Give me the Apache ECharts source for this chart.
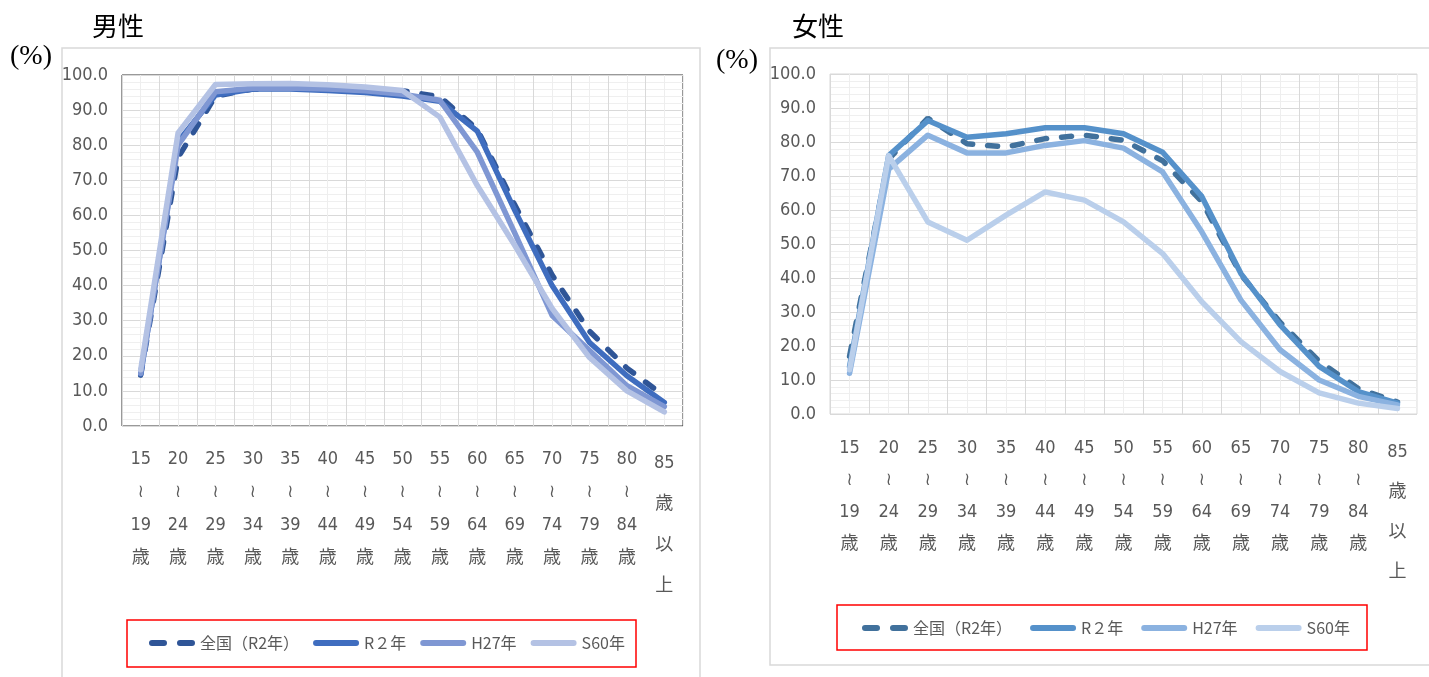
<!DOCTYPE html>
<html>
<head>
<meta charset="utf-8">
<script src="https://cdn.jsdelivr.net/npm/echarts@6/dist/echarts.min.js"></script>
<style>
  html, body { margin: 0; padding: 0; background: #fff; }
  .chart { position: absolute; top: 0; height: 677px; }
  #male { left: 0; width: 714px; }
  #female { left: 714px; width: 715px; }
</style>
</head>
<body>
<div id="male" class="chart"></div>
<div id="female" class="chart"></div>
<script>
// Labour force participation by age group — male / female

const AGE_GROUPS = ['15～19歳', '20～24歳', '25～29歳', '30～34歳', '35～39歳', '40～44歳', '45～49歳',
  '50～54歳', '55～59歳', '60～64歳', '65～69歳', '70～74歳', '75～79歳', '80～84歳', '85歳以上'];
const SERIES_NAMES = ['全国（R2年）', 'R２年', 'H27年', 'S60年'];
const Y_TICKS = [0, 10, 20, 30, 40, 50, 60, 70, 80, 90, 100];

// 男性
const maleZenkoku = [14.5, 76.5, 94.0, 96.0, 96.4, 96.0, 95.8, 95.5, 93.8, 84.5, 63.0, 43.0, 27.0, 16.5, 8.5];
const maleR2 = [14.8, 81.0, 94.3, 96.0, 96.0, 95.6, 95.0, 94.0, 92.5, 84.0, 61.5, 40.0, 23.8, 14.3, 6.7];
const maleH27 = [15.0, 80.0, 95.2, 96.2, 96.3, 96.0, 95.5, 94.5, 92.8, 78.0, 55.0, 31.5, 21.5, 11.5, 5.5];
const maleS60 = [16.0, 83.5, 97.3, 97.5, 97.6, 97.2, 96.6, 95.6, 88.0, 68.5, 51.5, 33.5, 19.5, 10.0, 4.0];

// 女性
const femaleZenkoku = [17.0, 75.0, 87.0, 79.5, 78.5, 81.0, 82.0, 80.5, 74.5, 62.5, 41.0, 27.0, 15.5, 7.5, 3.5];
const femaleR2 = [14.0, 76.0, 86.3, 81.4, 82.4, 84.2, 84.2, 82.4, 77.0, 64.0, 41.3, 26.2, 14.0, 6.6, 3.2];
const femaleH27 = [12.0, 72.0, 82.0, 76.8, 76.8, 79.0, 80.4, 78.2, 71.2, 53.6, 33.5, 18.9, 10.0, 5.2, 2.7];
const femaleS60 = [13.0, 76.0, 56.5, 51.1, 58.5, 65.3, 62.9, 56.5, 47.2, 33.0, 21.3, 12.5, 6.2, 3.2, 1.6];

const LABEL_FONT = "'Liberation Sans Narrow', 'DejaVu Sans Condensed', 'Noto Sans CJK JP', sans-serif";
const CJK_FONT = "'Noto Sans CJK JP', sans-serif";

// legend icons: two pills for the dashed series, one long pill for the others
const ICON_DASH = 'path://M3,0H15A3,3 0 0 1 15,6H3A3,3 0 0 1 3,0Z M31,0H43A3,3 0 0 1 43,6H31A3,3 0 0 1 31,0Z';
const ICON_SOLID = 'path://M3,0H43A3,3 0 0 1 43,6H3A3,3 0 0 1 3,0Z';

// "15～19歳" -> vertical stack, "85歳以上" gets looser spacing
function verticalLabel(v) {
  const parts = v.match(/\d+|./g).map(s => (s === '～' ? '≀' : s));
  const style = v.indexOf('以上') >= 0 ? 'wide' : 'n';
  return parts.map(p => `{${style}|${p}}`).join('\n');
}

function buildOption(cfg) {
  const g = cfg.grid;
  return {
    backgroundColor: '#fff',
    animation: false,
    graphic: [
      { type: 'rect', silent: true, shape: cfg.frame, style: { fill: 'none', stroke: '#D9D9D9', lineWidth: 1.5 } },
      { type: 'text', left: cfg.titlePos[0], top: cfg.titlePos[1],
        style: { text: cfg.title, font: `26px ${CJK_FONT}`, fill: '#000' } },
      { type: 'text', left: cfg.unitPos[0], top: cfg.unitPos[1],
        style: { text: '(%)', font: "28px 'Liberation Serif', serif", fill: '#000' } },
      { type: 'rect', silent: true, shape: cfg.legendBox, style: { fill: 'none', stroke: '#FF0000', lineWidth: 1.5 } },
    ],
    legend: {
      left: cfg.legendPos[0], top: cfg.legendPos[1],
      padding: 0, itemWidth: 46, itemHeight: 6, itemGap: cfg.legendGap,
      textStyle: { color: '#595959', fontSize: 16, fontFamily: CJK_FONT },
      data: SERIES_NAMES.map((n, i) => ({ name: n, icon: i === 0 ? ICON_DASH : ICON_SOLID })),
    },
    grid: {
      left: g.left, top: g.top, width: g.width, height: g.height,
      show: true, borderColor: cfg.plotBorder, borderWidth: 1, backgroundColor: '#fff',
    },
    xAxis: [
      {
        type: 'category', data: AGE_GROUPS, boundaryGap: true,
        axisLine: { show: false }, axisTick: { show: false },
        splitLine: { show: true, interval: 0, lineStyle: { color: '#D9D9D9', width: 1 } },
        axisLabel: {
          interval: 0, margin: cfg.labelMargin, color: '#595959', formatter: verticalLabel,
          rich: {
            n: { fontSize: 18, lineHeight: cfg.labelLine, fontFamily: LABEL_FONT, color: '#595959' },
            wide: { fontSize: 18, lineHeight: cfg.labelLine + 8, fontFamily: LABEL_FONT, color: '#595959' },
          },
        },
      },
      {
        // minor vertical gridlines at category centres
        type: 'category', position: 'top', data: AGE_GROUPS.flatMap(() => ['', '']), boundaryGap: true,
        axisLine: { show: false }, axisTick: { show: false }, axisLabel: { show: false },
        splitLine: { show: true, interval: (i) => i % 2 === 1, lineStyle: { color: '#EEEEEE', width: 1 } },
      },
    ],
    yAxis: {
      type: 'value', min: Y_TICKS[0], max: Y_TICKS[Y_TICKS.length - 1], interval: 10,
      axisLine: { show: false }, axisTick: { show: false },
      axisLabel: { color: '#595959', fontSize: 18, fontFamily: LABEL_FONT, margin: 14, formatter: v => v.toFixed(1) },
      splitLine: { lineStyle: { color: '#D9D9D9', width: 1 } },
      minorTick: { show: false, splitNumber: 5 },
      minorSplitLine: { show: true, lineStyle: { color: '#EFEFEF', width: 1 } },
    },
    series: cfg.data.map((d, i) => ({
      name: SERIES_NAMES[i], type: 'line', data: d, xAxisIndex: 0,
      symbol: 'none', smooth: false,
      color: cfg.colors[i],
      itemStyle: { color: cfg.colors[i] },
      lineStyle: i === 0
        ? { color: cfg.colors[i], width: 5.5, type: [10, 15], cap: 'round' }
        : { color: cfg.colors[i], width: 5.5, cap: 'round', join: 'round' },
    })),
  };
}

const maleChart = echarts.init(document.getElementById('male'), null, { renderer: 'canvas' });
maleChart.setOption(buildOption({
  title: '男性', titlePos: [92, 13], unitPos: [10, 43],
  frame: { x: 62, y: 48, width: 638, height: 650 },
  grid: { left: 122, top: 75, width: 561, height: 351 },
  plotBorder: '#333333', labelMargin: 17, labelLine: 33,
  legendBox: { x: 127, y: 620, width: 509, height: 47 },
  legendPos: [149, 635], legendGap: 14,
  colors: ['#2F5597', '#3F6DBF', '#7F97D3', '#B4C2E4'],
  data: [maleZenkoku, maleR2, maleH27, maleS60],
}));

const femaleChart = echarts.init(document.getElementById('female'), null, { renderer: 'canvas' });
femaleChart.setOption(buildOption({
  title: '女性', titlePos: [78, 13], unitPos: [2, 47],
  frame: { x: 56, y: 48, width: 700, height: 617 },
  grid: { left: 116, top: 74, width: 587, height: 340 },
  plotBorder: '#D9D9D9', labelMargin: 18, labelLine: 32,
  legendBox: { x: 123, y: 605, width: 530, height: 45 },
  legendPos: [148, 620], legendGap: 18,
  colors: ['#41719C', '#5591CA', '#8BB2E0', '#BACFEB'],
  data: [femaleZenkoku, femaleR2, femaleH27, femaleS60],
}));
</script>
</body>
</html>
